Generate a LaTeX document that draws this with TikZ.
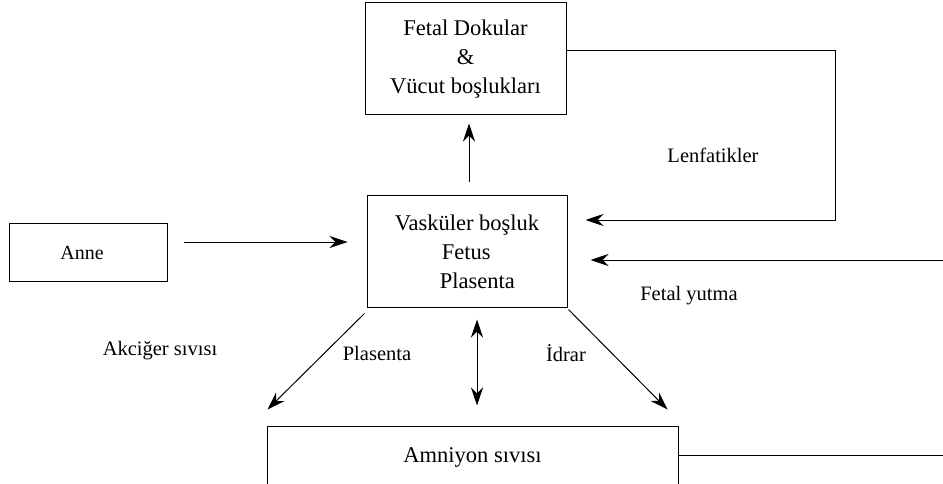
\documentclass[tikz,border=0pt]{standalone}
\usepackage{fontspec}
\setmainfont{Liberation Serif}
\usetikzlibrary{arrows.meta}
\tikzset{
  txt/.style={font=\fontsize{20.5}{28}\selectfont, inner sep=0pt},
  bigtxt/.style={font=\fontsize{22.5}{29}\selectfont},
  boxnode/.style={draw, line width=1pt, inner sep=0pt, txt},
  conn/.style={line width=1pt},
  arr/.style={conn, -{Stealth[length=18pt,width=12pt,inset=6pt]}},
  darr/.style={conn, {Stealth[length=18pt,width=12pt,inset=6pt]}-{Stealth[length=18pt,width=12pt,inset=6pt]}}
}
\begin{document}
\begin{tikzpicture}[x=1pt,y=-1pt]
\useasboundingbox (0,0) rectangle (943,484);
\clip (0,0) rectangle (943,484);
\fill[white] (0,0) rectangle (943,484);

% boxes
\node[boxnode, bigtxt, minimum width=201pt, minimum height=112pt, align=center] (tis) at (465.5,59)
  {Fetal Dokular\\\&\\Vücut boşlukları};
\node[boxnode, bigtxt, minimum width=200pt, minimum height=111pt, align=left] (vas) at (467,251.5)
  {Vasküler boşluk\\\hspace*{47pt}Fetus\\\hspace*{45pt}Plasenta};
\node[boxnode, minimum width=158pt, minimum height=58pt] (anne) at (88,252) {};
\node[txt, font=\fontsize{20}{24}\selectfont] (annetxt) at (82,253) {Anne};
\node[boxnode, bigtxt, minimum width=411pt, minimum height=62pt] (amn) at (472.5,457) {Amniyon sıvısı};

% labels
\node[txt] (lenf) at (713,155) {Lenfatikler};
\node[txt] (fyut) at (689,296) {Fetal yutma};
\node[txt] (akc) at (160,351) {Akciğer sıvısı};
\node[txt] (plas) at (377,353) {Plasenta};
\node[txt] (idr) at (566,353) {İdrar};

% free ends
\coordinate (lcorner1) at (835,51);
\coordinate (lcorner2) at (835,220);
\coordinate (fyR) at (943,260);
\coordinate (amR) at (943,455);

% connectors
\draw[arr] ([xshift=2pt,yshift=13pt]vas.north) -- ([xshift=3.5pt,yshift=-8pt]tis.south);
\draw[arr] ([yshift=8pt]tis.east) -- (lcorner1) -- (lcorner2) -- ([xshift=18pt,yshift=31.5pt]vas.east);
\draw[arr] ([xshift=16pt,yshift=10pt]anne.east) -- ([xshift=-19pt,yshift=9.5pt]vas.west);
\draw[arr] (fyR) -- ([xshift=23pt,yshift=-8.5pt]vas.east);
\draw[arr] ([xshift=-2pt,yshift=-6pt]vas.south west) -- ([xshift=1pt,yshift=16pt]amn.north west);
\draw[arr] ([xshift=1pt,yshift=-2pt]vas.south east) -- ([xshift=-11pt,yshift=16pt]amn.north east);
\draw[darr] ([xshift=10pt,yshift=-12pt]vas.south) -- ([xshift=4.5pt,yshift=20pt]amn.north);
\draw[conn] ([yshift=2pt]amn.east) -- (amR);
\end{tikzpicture}
\end{document}
